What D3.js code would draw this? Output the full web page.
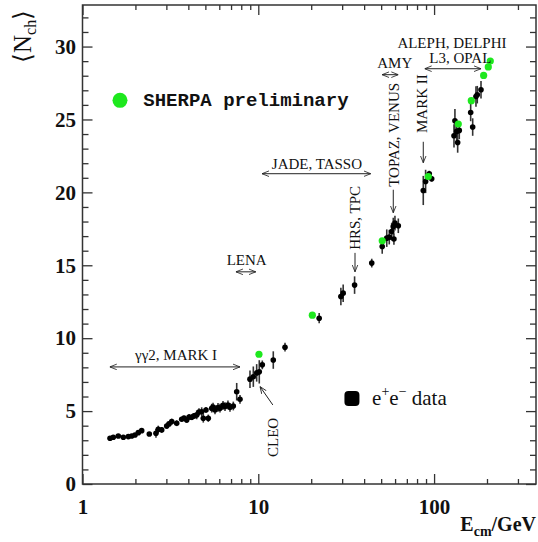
<!DOCTYPE html>
<html>
<head>
<meta charset="utf-8">
<script src="https://cdn.jsdelivr.net/npm/d3@7"></script>
<style>
  body { margin: 0; background: #fff; }
</style>
</head>
<body>
<div id="chart"></div>
<script>
// e+e- charged multiplicity data (E_cm in GeV, <N_ch>, error)
const dataE = [1.434, 1.497, 1.598, 1.707, 1.822, 1.905, 1.989, 2.077, 2.171, 2.399,
  2.618, 2.698, 2.822, 3.013, 3.105, 3.218, 3.434, 3.667, 3.78, 3.915,
  4.04, 4.18, 4.31, 4.463, 4.6, 4.765, 4.866, 5.04, 5.195, 5.432,
  5.53, 5.672, 5.9, 6.055, 6.3, 6.466, 6.72, 6.902, 7.208, 7.537, 7.869,
  8.97, 9.37, 9.79, 10.13, 10.54, 12.17, 14.19, 22.2, 29.5, 30.4, 35.3, 44.2,
  50.7, 53.8, 55.6, 57.4, 58.6, 59.1, 59.9, 62.6,
  86.8, 89.5, 93.9, 96.9,
  129.8, 131.4, 134.5, 136.2, 139.1, 161.5, 165.8, 173.1, 176.1, 184.9]
const dataN = [3.14, 3.21, 3.29, 3.21, 3.25, 3.29, 3.36, 3.52, 3.66, 3.43,
  3.48, 3.75, 3.71, 3.98, 4.12, 4.28, 4.17, 4.44, 4.53, 4.39,
  4.6, 4.58, 4.67, 4.74, 4.94, 4.96, 4.51, 5.08, 4.51, 5.2,
  5.28, 5.08, 5.25, 5.2, 5.39, 5.31, 5.42, 5.26, 5.35, 6.33, 5.81,
  7.19, 7.36, 7.62, 7.69, 8.17, 8.5, 9.38, 11.37, 12.86, 13.09, 13.64, 15.15,
  16.29, 16.86, 16.93, 17.32, 17.66, 16.8, 17.89, 17.71,
  20.13, 20.75, 21.28, 20.93,
  23.88, 24.91, 24.18, 23.42, 24.25, 25.48, 24.48, 26.58, 26.7, 27.04]
const dataErr = [0.08, 0.08, 0.08, 0.1, 0.1, 0.1, 0.1, 0.1, 0.12, 0.1,
  0.3, 0.25, 0.2, 0.2, 0.15, 0.2, 0.2, 0.15, 0.15, 0.2,
  0.2, 0.2, 0.2, 0.3, 0.25, 0.3, 0.3, 0.2, 0.25, 0.3,
  0.3, 0.3, 0.3, 0.3, 0.3, 0.3, 0.3, 0.3, 0.3, 0.6, 0.3,
  0.6, 0.7, 0.6, 0.8, 0.3, 0.6, 0.3, 0.35, 0.6, 0.6, 0.6, 0.3,
  0.5, 0.6, 0.5, 0.6, 0.6, 0.4, 0.5, 0.5,
  1.0, 0.8, 0.2, 0.2,
  0.8, 0.8, 0.7, 0.7, 0.6, 0.6, 0.6, 0.7, 0.6, 0.6]

// SHERPA preliminary
const sherpaE = [10.09, 20.3, 50.7, 92.7, 137.3, 162.8, 191.4, 203.4, 208.8]
const sherpaN = [8.9, 11.58, 16.68, 21.09, 24.69, 26.29, 28.02, 28.6, 29.01]

// ticks
const xMajor = [1, 10, 100]
const xMinor = [2, 3, 4, 5, 6, 7, 8, 9, 20, 30, 40, 50, 60, 70, 80, 90, 200, 300]
const yMajor = [0, 5, 10, 15, 20, 25, 30]
const yMinor = [1, 2, 3, 4, 6, 7, 8, 9, 11, 12, 13, 14, 16, 17, 18, 19, 21, 22, 23, 24, 26, 27, 28, 29, 31, 32]

// experiment labels, in data coordinates
const rangeLabels = [
  { text: 'γγ2, MARK I', tx: 1.99, ty: 8.51, from: 1.43, to: 7.87, ay: 8.03 },
  { text: 'LENA', tx: 6.61, ty: 15.03, from: 7.46, to: 9.68, ay: 14.55 },
  { text: 'JADE, TASSO', tx: 11.94, ty: 21.59, from: 10.5, to: 43.6, ay: 21.28 },
  { text: 'AMY', tx: 47.5, ty: 28.55, from: 50.6, to: 62.6, ay: 28.07 },
  { text: 'L3, OPAL', tx: 94, ty: 28.87, from: 88.4, to: 185, ay: 28.48 }
]
const pointLabels = [
  { text: 'HRS, TPC', tx: 37.9, ty: 16.06, ax: 35.5, y1: 15.85, y2: 14.55 },
  { text: 'TOPAZ, VENUS', tx: 63.1, ty: 20.38, ax: 58.6, y1: 20.18, y2: 18.6 },
  { text: 'MARK II', tx: 91.1, ty: 24.07, ax: 86.8, y1: 23.47, y2: 22.03 }
]

const width = 538
const height = 542
const serif = 'Liberation Serif, Times New Roman, serif'

const svg = d3
  .select('#chart')
  .append('svg')
  .attr('width', width)
  .attr('height', height)

const x = d3.scaleLog().domain([1, 380]).range([82.5, 536])
const y = d3.scaleLinear().domain([0, 32.85]).range([484, 5])

svg
  .append('defs')
  .append('marker')
  .attr('id', 'head')
  .attr('viewBox', '0 0 10 10')
  .attr('refX', 10)
  .attr('refY', 5)
  .attr('markerWidth', 7)
  .attr('markerHeight', 7)
  .attr('markerUnits', 'userSpaceOnUse')
  .attr('orient', 'auto-start-reverse')
  .append('path')
  .attr('d', 'M0,1 L10,5 L0,9')
  .attr('fill', 'none')
  .attr('stroke', '#222')
  .attr('stroke-width', 1.2)

// axes
function styleAxis(g) {
  g.select('.domain').remove()
  g.selectAll('line').attr('stroke', '#333').attr('stroke-width', 1.3)
  g.attr('font-family', serif).attr('font-weight', 'bold').attr('font-size', 21)
  g.selectAll('text').attr('fill', '#111')
}

svg.append('g')
  .attr('transform', `translate(0,${y(0)})`)
  .call(d3.axisBottom(x).tickValues(xMajor).tickSizeInner(-10).tickSizeOuter(0)
    .tickPadding(15).tickFormat(d3.format('d')))
  .call(styleAxis)
svg.append('g')
  .attr('transform', `translate(0,${y(0)})`)
  .call(d3.axisBottom(x).tickValues(xMinor).tickSize(-5).tickFormat(''))
  .call(styleAxis)
svg.append('g')
  .attr('transform', `translate(0,${y(32.85)})`)
  .call(d3.axisTop(x).tickValues(xMajor).tickSize(-10).tickFormat(''))
  .call(styleAxis)
svg.append('g')
  .attr('transform', `translate(0,${y(32.85)})`)
  .call(d3.axisTop(x).tickValues(xMinor).tickSize(-5).tickFormat(''))
  .call(styleAxis)

svg.append('g')
  .attr('transform', `translate(${x(1)},0)`)
  .call(d3.axisLeft(y).tickValues(yMajor).tickSizeInner(-10).tickSizeOuter(0).tickPadding(6.5))
  .call(styleAxis)
svg.append('g')
  .attr('transform', `translate(${x(1)},0)`)
  .call(d3.axisLeft(y).tickValues(yMinor).tickSize(-6).tickFormat(''))
  .call(styleAxis)
svg.append('g')
  .attr('transform', `translate(${x(380)},0)`)
  .call(d3.axisRight(y).tickValues(yMajor).tickSize(-10).tickFormat(''))
  .call(styleAxis)
svg.append('g')
  .attr('transform', `translate(${x(380)},0)`)
  .call(d3.axisRight(y).tickValues(yMinor).tickSize(-6).tickFormat(''))
  .call(styleAxis)

svg.append('rect')
  .attr('x', x(1))
  .attr('y', y(32.85))
  .attr('width', x(380) - x(1))
  .attr('height', y(0) - y(32.85))
  .attr('fill', 'none')
  .attr('stroke', '#333')
  .attr('stroke-width', 1.5)

// axis titles
const yTitle = svg.append('text')
  .attr('transform', 'translate(31,63) rotate(-90)')
  .attr('font-family', serif)
  .attr('font-size', 25)
  .attr('fill', '#111')
yTitle.append('tspan').text('⟨N')
yTitle.append('tspan').text('ch').attr('font-size', 16).attr('dy', 5)
yTitle.append('tspan').text('⟩').attr('dy', -5)

const xTitle = svg.append('text')
  .attr('x', 536)
  .attr('y', 531)
  .attr('text-anchor', 'end')
  .attr('font-family', serif)
  .attr('font-weight', 'bold')
  .attr('font-size', 20)
  .attr('fill', '#111')
xTitle.append('tspan').text('E')
xTitle.append('tspan').text('cm').attr('font-size', 14).attr('dy', 5)
xTitle.append('tspan').text('/GeV').attr('dy', -5)

// data: error bars, points
const data = dataE.map((e, i) => ({ e: e, n: dataN[i], err: dataErr[i] }))
const sherpa = sherpaE.map((e, i) => ({ e: e, n: sherpaN[i] }))

svg.append('g')
  .selectAll('line')
  .data(data)
  .enter()
  .append('line')
  .attr('x1', d => x(d.e))
  .attr('x2', d => x(d.e))
  .attr('y1', d => y(d.n - d.err))
  .attr('y2', d => y(d.n + d.err))
  .attr('stroke', '#333')
  .attr('stroke-width', 1.6)

svg.append('g')
  .selectAll('circle')
  .data(data)
  .enter()
  .append('circle')
  .attr('cx', d => x(d.e))
  .attr('cy', d => y(d.n))
  .attr('r', 2.8)
  .attr('fill', '#000')

svg.append('g')
  .selectAll('circle')
  .data(sherpa)
  .enter()
  .append('circle')
  .attr('cx', d => x(d.e))
  .attr('cy', d => y(d.n))
  .attr('r', 3.6)
  .attr('fill', '#1ee81e')

// experiment labels
const ann = svg.append('g').attr('font-family', serif).attr('font-size', 15).attr('fill', '#111')

rangeLabels.forEach(d => {
  ann.append('text').attr('x', x(d.tx)).attr('y', y(d.ty)).text(d.text)
  ann.append('line')
    .attr('x1', x(d.from)).attr('x2', x(d.to))
    .attr('y1', y(d.ay)).attr('y2', y(d.ay))
    .attr('stroke', '#222').attr('stroke-width', 1)
    .attr('marker-start', 'url(#head)')
    .attr('marker-end', 'url(#head)')
})
ann.append('text')
  .attr('x', x(126.4)).attr('y', y(29.9))
  .attr('text-anchor', 'middle')
  .text('ALEPH, DELPHI')

pointLabels.forEach(d => {
  ann.append('text')
    .attr('transform', `translate(${x(d.tx)},${y(d.ty)}) rotate(-90)`)
    .text(d.text)
  ann.append('line')
    .attr('x1', x(d.ax)).attr('x2', x(d.ax))
    .attr('y1', y(d.y1)).attr('y2', y(d.y2))
    .attr('stroke', '#222').attr('stroke-width', 1)
    .attr('marker-end', 'url(#head)')
})

ann.append('text')
  .attr('transform', `translate(${x(12.94)},${y(1.85)}) rotate(-90)`)
  .text('CLEO')
ann.append('line')
  .attr('x1', x(12.1)).attr('y1', y(5.42))
  .attr('x2', x(10.23)).attr('y2', y(6.68))
  .attr('stroke', '#222').attr('stroke-width', 1)
  .attr('marker-end', 'url(#head)')

// legend
svg.append('circle')
  .attr('cx', x(1.634)).attr('cy', y(26.31))
  .attr('r', 7.5)
  .attr('fill', '#1ee81e')
svg.append('text')
  .attr('x', x(2.218)).attr('y', y(25.93))
  .attr('font-family', 'Liberation Mono, Courier New, monospace')
  .attr('font-weight', 'bold')
  .attr('font-size', 19)
  .attr('fill', '#111')
  .text('SHERPA preliminary')

svg.append('rect')
  .attr('x', x(34.1) - 7.5).attr('y', y(5.87) - 7.5)
  .attr('width', 15).attr('height', 15)
  .attr('rx', 4)
  .attr('fill', '#000')
const eeText = svg.append('text')
  .attr('x', x(44.4)).attr('y', y(5.42))
  .attr('font-family', serif)
  .attr('font-size', 21)
  .attr('fill', '#111')
eeText.append('tspan').text('e')
eeText.append('tspan').text('+').attr('font-size', 14).attr('dy', -9)
eeText.append('tspan').text('e').attr('dy', 9)
eeText.append('tspan').text('−').attr('font-size', 14).attr('dy', -9)
eeText.append('tspan').text(' data').attr('dy', 9)
</script>
</body>
</html>
